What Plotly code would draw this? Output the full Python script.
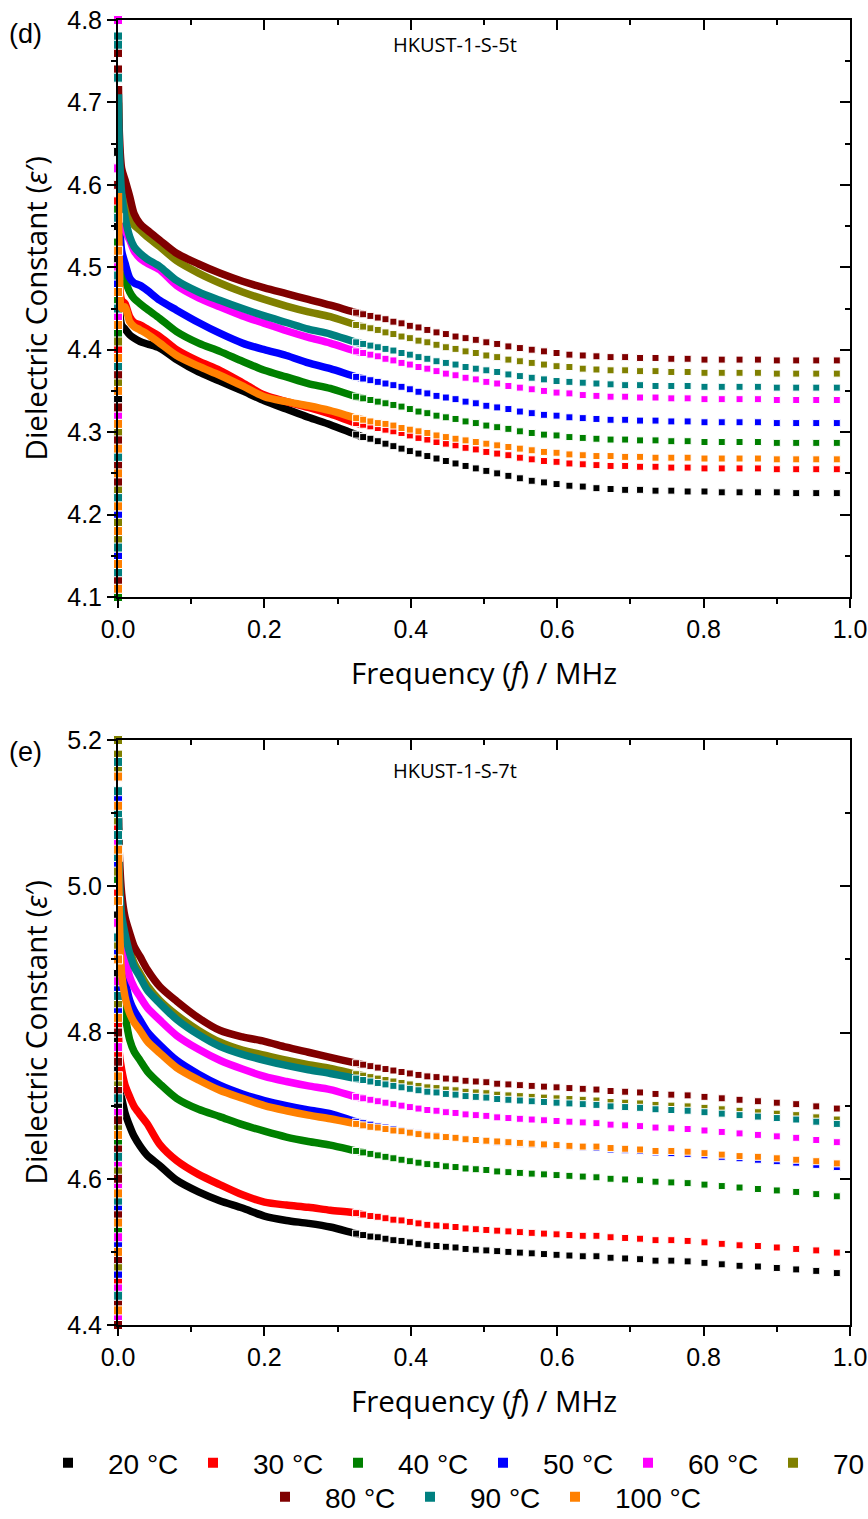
import plotly.graph_objects as go

# ---------------- data ----------------
temps = ["20 °C", "30 °C", "40 °C", "50 °C", "60 °C", "70 °C", "80 °C", "90 °C", "100 °C"]
colors = ["#000000", "#FF0000", "#008000", "#0000FF", "#FF00FF", "#808000", "#800000", "#008080", "#FF8000"]

# frequency (MHz) of the lowest-frequency points (the noisy column at f ~ 0)
freq_low = [0.00001, 0.00002, 0.00003, 0.00004, 0.00005, 0.00006,
            0.00007, 0.00008, 0.00009, 0.0001, 0.00011, 0.00012]
# frequency (MHz) of the dense part of each sweep
freq_head = [0.0006, 0.002, 0.005, 0.0096, 0.016, 0.022, 0.030, 0.040, 0.057,
             0.080, 0.110, 0.139, 0.170, 0.200, 0.230, 0.260, 0.290]
# frequency (MHz) of the separated points at the high-frequency end
freq_tail = [0.3253, 0.3349, 0.3448, 0.3549, 0.3654, 0.3762, 0.3873, 0.3987, 0.4105,
             0.4226, 0.4351, 0.4479, 0.4611, 0.4748, 0.4888, 0.5032, 0.5180, 0.5333,
             0.5490, 0.5652, 0.5819, 0.5991, 0.6167, 0.6349, 0.6536, 0.6729, 0.6928,
             0.7132, 0.7343, 0.7559, 0.7782, 0.8012, 0.8248, 0.8491, 0.8742, 0.9000,
             0.9265, 0.9539, 0.9820]

# ---- panel (d) HKUST-1-S-5t ----
d_low_20 = [4.13, 4.38, 4.22, 4.55, 4.29, 4.47, 4.17, 4.64, 4.34, 4.25, 4.51, 4.41]
d_low_30 = [4.18, 4.31, 4.44, 4.27, 4.58, 4.12, 4.36, 4.49, 4.21, 4.62, 4.28, 4.40]
d_low_40 = [4.10, 4.26, 4.42, 4.35, 4.19, 4.53, 4.30, 4.46, 4.14, 4.39, 4.57, 4.23]
d_low_50 = [4.15, 4.33, 4.24, 4.48, 4.37, 4.20, 4.52, 4.29, 4.43, 4.11, 4.35, 4.60]
d_low_60 = [4.80, 4.74, 4.44, 4.21, 4.32, 4.27, 4.50, 4.16, 4.39, 4.62, 4.35, 4.25]
d_low_70 = [4.19, 4.36, 4.14, 4.28, 4.47, 4.33, 4.23, 4.56, 4.41, 4.17, 4.30, 4.52]
d_low_80 = [4.76, 4.74, 4.12, 4.24, 4.21, 4.29, 4.33, 4.26, 4.45, 4.18, 4.37, 4.60]
d_low_90 = [4.78, 4.77, 4.73, 4.16, 4.31, 4.45, 4.22, 4.38, 4.13, 4.56, 4.27, 4.49]
d_low_100 = [4.11, 4.14, 4.18, 4.21, 4.25, 4.28, 4.31, 4.35, 4.39, 4.43, 4.47, 4.52]

d_head_20 = [4.50, 4.45, 4.43, 4.425, 4.418, 4.414, 4.410, 4.407, 4.402, 4.388, 4.373, 4.362, 4.350, 4.338, 4.328, 4.318, 4.309]
d_head_30 = [4.52, 4.48, 4.46, 4.456, 4.440, 4.433, 4.430, 4.425, 4.416, 4.400, 4.386, 4.375, 4.360, 4.345, 4.337, 4.330, 4.322]
d_head_40 = [4.58, 4.53, 4.50, 4.485, 4.470, 4.462, 4.456, 4.449, 4.438, 4.422, 4.408, 4.398, 4.386, 4.375, 4.367, 4.359, 4.353]
d_head_50 = [4.62, 4.56, 4.52, 4.505, 4.487, 4.481, 4.478, 4.472, 4.460, 4.448, 4.433, 4.420, 4.408, 4.400, 4.393, 4.384, 4.377]
d_head_60 = [4.68, 4.62, 4.57, 4.545, 4.533, 4.520, 4.511, 4.505, 4.497, 4.478, 4.463, 4.452, 4.441, 4.432, 4.423, 4.415, 4.408]
d_head_70 = [4.70, 4.64, 4.60, 4.586, 4.561, 4.551, 4.545, 4.537, 4.525, 4.508, 4.493, 4.481, 4.470, 4.461, 4.453, 4.446, 4.440]
d_head_80 = [4.72, 4.66, 4.62, 4.606, 4.586, 4.565, 4.553, 4.545, 4.533, 4.517, 4.504, 4.493, 4.483, 4.475, 4.468, 4.461, 4.454]
d_head_90 = [4.71, 4.64, 4.59, 4.561, 4.537, 4.525, 4.517, 4.510, 4.501, 4.484, 4.470, 4.460, 4.450, 4.441, 4.433, 4.425, 4.419]
d_head_100 = [4.59, 4.50, 4.45, 4.452, 4.434, 4.428, 4.424, 4.419, 4.408, 4.393, 4.380, 4.369, 4.356, 4.343, 4.337, 4.332, 4.326]

d_tail_20 = [4.297, 4.294, 4.292, 4.289, 4.286, 4.283, 4.280, 4.277, 4.274, 4.271, 4.268, 4.265, 4.262,
             4.259, 4.256, 4.253, 4.250, 4.247, 4.244, 4.241, 4.239, 4.237, 4.235, 4.234, 4.232, 4.231,
             4.230, 4.230, 4.229, 4.229, 4.228, 4.228, 4.227, 4.227, 4.227, 4.227, 4.226, 4.226, 4.226]
d_tail_30 = [4.311, 4.309, 4.307, 4.305, 4.303, 4.301, 4.299, 4.296, 4.293, 4.291, 4.288, 4.286, 4.284,
             4.281, 4.279, 4.276, 4.274, 4.272, 4.269, 4.267, 4.265, 4.264, 4.262, 4.261, 4.260, 4.259,
             4.259, 4.258, 4.258, 4.257, 4.257, 4.256, 4.256, 4.256, 4.256, 4.255, 4.255, 4.255, 4.255]
d_tail_40 = [4.343, 4.341, 4.339, 4.337, 4.335, 4.333, 4.331, 4.328, 4.325, 4.323, 4.320, 4.318, 4.316,
             4.313, 4.311, 4.308, 4.306, 4.304, 4.301, 4.299, 4.297, 4.296, 4.294, 4.293, 4.292, 4.291,
             4.291, 4.290, 4.290, 4.289, 4.289, 4.288, 4.288, 4.288, 4.288, 4.287, 4.287, 4.287, 4.287]
d_tail_50 = [4.367, 4.365, 4.363, 4.361, 4.359, 4.357, 4.355, 4.352, 4.349, 4.347, 4.344, 4.342, 4.340,
             4.337, 4.335, 4.332, 4.330, 4.328, 4.325, 4.323, 4.321, 4.320, 4.318, 4.317, 4.316, 4.315,
             4.315, 4.314, 4.314, 4.313, 4.313, 4.312, 4.312, 4.312, 4.312, 4.311, 4.311, 4.311, 4.311]
d_tail_60 = [4.398, 4.396, 4.394, 4.392, 4.389, 4.387, 4.384, 4.382, 4.379, 4.377, 4.374, 4.371, 4.369,
             4.366, 4.364, 4.361, 4.359, 4.356, 4.354, 4.352, 4.350, 4.348, 4.347, 4.345, 4.344, 4.343,
             4.343, 4.342, 4.342, 4.341, 4.341, 4.340, 4.340, 4.340, 4.340, 4.339, 4.339, 4.339, 4.339]
d_tail_70 = [4.430, 4.428, 4.426, 4.424, 4.421, 4.419, 4.416, 4.414, 4.411, 4.409, 4.406, 4.403, 4.401,
             4.398, 4.396, 4.393, 4.391, 4.388, 4.386, 4.384, 4.382, 4.380, 4.379, 4.377, 4.376, 4.375,
             4.375, 4.374, 4.374, 4.373, 4.373, 4.372, 4.372, 4.372, 4.372, 4.371, 4.371, 4.371, 4.371]
d_tail_80 = [4.445, 4.443, 4.441, 4.439, 4.437, 4.434, 4.432, 4.429, 4.427, 4.424, 4.421, 4.419, 4.416,
             4.414, 4.412, 4.409, 4.407, 4.404, 4.402, 4.400, 4.398, 4.396, 4.394, 4.393, 4.392, 4.391,
             4.391, 4.390, 4.390, 4.389, 4.389, 4.388, 4.388, 4.388, 4.388, 4.387, 4.387, 4.387, 4.387]
d_tail_90 = [4.409, 4.407, 4.405, 4.403, 4.401, 4.399, 4.396, 4.394, 4.391, 4.389, 4.386, 4.384, 4.382,
             4.379, 4.377, 4.375, 4.373, 4.370, 4.368, 4.366, 4.364, 4.362, 4.361, 4.360, 4.359, 4.358,
             4.357, 4.357, 4.356, 4.356, 4.356, 4.355, 4.355, 4.355, 4.355, 4.354, 4.354, 4.354, 4.354]
d_tail_100 = [4.317, 4.315, 4.313, 4.311, 4.310, 4.308, 4.305, 4.303, 4.301, 4.299, 4.296, 4.294, 4.292,
              4.290, 4.288, 4.286, 4.284, 4.282, 4.280, 4.278, 4.276, 4.275, 4.273, 4.272, 4.271, 4.271,
              4.270, 4.270, 4.269, 4.269, 4.269, 4.268, 4.268, 4.268, 4.268, 4.267, 4.267, 4.267, 4.267]

# ---- panel (e) HKUST-1-S-7t ----
e_low_20 = [4.44, 4.52, 4.61, 4.70, 4.79, 4.88, 4.96, 5.05, 4.48, 4.57, 4.66, 4.75]
e_low_30 = [4.46, 4.55, 4.63, 4.72, 4.81, 4.90, 4.99, 5.08, 4.50, 4.59, 4.68, 4.77]
e_low_40 = [4.43, 4.53, 4.65, 4.74, 4.85, 4.93, 5.01, 5.10, 4.49, 4.60, 4.69, 4.80]
e_low_50 = [4.47, 4.56, 4.66, 4.73, 4.83, 4.91, 5.03, 5.12, 4.51, 4.62, 4.71, 4.86]
e_low_60 = [4.41, 4.45, 4.54, 4.62, 4.71, 4.87, 4.95, 5.06, 4.52, 4.59, 4.69, 4.78]
e_low_70 = [5.20, 5.18, 5.16, 4.58, 4.67, 4.84, 4.92, 5.02, 4.48, 4.61, 4.73, 5.09]
e_low_80 = [4.40, 4.43, 4.49, 4.55, 4.60, 4.64, 4.68, 4.72, 4.76, 4.80, 5.15, 5.04]
e_low_90 = [5.17, 5.13, 5.10, 5.07, 5.04, 4.98, 4.93, 4.85, 4.57, 4.63, 4.44, 4.71]
e_low_100 = [4.42, 4.50, 4.58, 4.66, 4.74, 4.82, 4.90, 4.98, 5.05, 5.11, 5.15, 4.54]

e_head_20 = [4.73, 4.72, 4.71, 4.690, 4.672, 4.658, 4.645, 4.632, 4.618, 4.598, 4.582, 4.570, 4.560, 4.549, 4.543, 4.539, 4.534]
e_head_30 = [4.80, 4.77, 4.749, 4.728, 4.712, 4.699, 4.688, 4.675, 4.647, 4.625, 4.606, 4.592, 4.578, 4.568, 4.564, 4.561, 4.557]
e_head_40 = [4.95, 4.88, 4.84, 4.822, 4.790, 4.774, 4.762, 4.747, 4.730, 4.710, 4.695, 4.685, 4.674, 4.665, 4.657, 4.651, 4.646]
e_head_50 = [5.00, 4.94, 4.90, 4.872, 4.844, 4.830, 4.817, 4.801, 4.783, 4.762, 4.743, 4.728, 4.716, 4.707, 4.700, 4.694, 4.689]
e_head_60 = [5.04, 4.98, 4.93, 4.904, 4.876, 4.862, 4.849, 4.834, 4.817, 4.796, 4.777, 4.762, 4.750, 4.740, 4.733, 4.727, 4.722]
e_head_70 = [5.08, 5.02, 4.96, 4.940, 4.913, 4.895, 4.881, 4.864, 4.844, 4.824, 4.803, 4.787, 4.776, 4.769, 4.762, 4.756, 4.751]
e_head_80 = [5.10, 5.04, 4.99, 4.958, 4.936, 4.918, 4.904, 4.886, 4.863, 4.843, 4.820, 4.803, 4.794, 4.788, 4.780, 4.773, 4.766]
e_head_90 = [5.10, 5.01, 4.96, 4.935, 4.908, 4.890, 4.876, 4.858, 4.840, 4.818, 4.797, 4.781, 4.770, 4.762, 4.755, 4.749, 4.744]
e_head_100 = [5.05, 4.95, 4.88, 4.849, 4.826, 4.814, 4.803, 4.788, 4.772, 4.752, 4.735, 4.721, 4.710, 4.700, 4.693, 4.687, 4.682]

e_tail_20 = [4.525, 4.523, 4.521, 4.520, 4.518, 4.516, 4.515, 4.513, 4.511, 4.509, 4.508, 4.507, 4.506,
             4.504, 4.503, 4.502, 4.501, 4.500, 4.499, 4.498, 4.497, 4.496, 4.495, 4.494, 4.494, 4.492,
             4.491, 4.490, 4.488, 4.488, 4.487, 4.485, 4.483, 4.481, 4.480, 4.478, 4.476, 4.474, 4.471]
e_tail_30 = [4.553, 4.551, 4.549, 4.548, 4.546, 4.544, 4.543, 4.541, 4.539, 4.537, 4.536, 4.535, 4.534,
             4.532, 4.531, 4.530, 4.529, 4.528, 4.527, 4.526, 4.525, 4.524, 4.523, 4.522, 4.522, 4.520,
             4.519, 4.518, 4.516, 4.516, 4.515, 4.513, 4.511, 4.509, 4.508, 4.506, 4.504, 4.502, 4.499]
e_tail_40 = [4.638, 4.636, 4.634, 4.632, 4.630, 4.628, 4.626, 4.624, 4.622, 4.620, 4.619, 4.617, 4.616,
             4.614, 4.613, 4.612, 4.610, 4.609, 4.608, 4.607, 4.606, 4.605, 4.604, 4.603, 4.602, 4.600,
             4.599, 4.598, 4.596, 4.595, 4.594, 4.592, 4.590, 4.588, 4.586, 4.584, 4.582, 4.579, 4.576]
e_tail_50 = [4.678, 4.676, 4.674, 4.672, 4.670, 4.668, 4.666, 4.664, 4.662, 4.660, 4.659, 4.657, 4.656,
             4.654, 4.653, 4.652, 4.650, 4.649, 4.648, 4.647, 4.646, 4.645, 4.644, 4.643, 4.642, 4.640,
             4.639, 4.638, 4.636, 4.635, 4.634, 4.632, 4.630, 4.628, 4.626, 4.624, 4.622, 4.619, 4.616]
e_tail_60 = [4.712, 4.710, 4.708, 4.706, 4.704, 4.702, 4.700, 4.698, 4.696, 4.694, 4.693, 4.691, 4.690,
             4.688, 4.687, 4.686, 4.684, 4.683, 4.682, 4.681, 4.680, 4.679, 4.678, 4.677, 4.676, 4.674,
             4.673, 4.672, 4.670, 4.669, 4.668, 4.666, 4.664, 4.662, 4.660, 4.658, 4.656, 4.653, 4.650]
e_tail_70 = [4.743, 4.741, 4.739, 4.737, 4.735, 4.733, 4.731, 4.729, 4.727, 4.725, 4.724, 4.722, 4.721,
             4.719, 4.718, 4.717, 4.715, 4.714, 4.713, 4.712, 4.711, 4.710, 4.709, 4.708, 4.707, 4.705,
             4.704, 4.703, 4.701, 4.700, 4.699, 4.697, 4.695, 4.693, 4.691, 4.689, 4.687, 4.684, 4.681]
e_tail_80 = [4.758, 4.756, 4.754, 4.752, 4.750, 4.748, 4.746, 4.744, 4.742, 4.740, 4.739, 4.737, 4.736,
             4.734, 4.733, 4.732, 4.730, 4.729, 4.728, 4.727, 4.726, 4.725, 4.724, 4.723, 4.722, 4.720,
             4.719, 4.718, 4.716, 4.715, 4.714, 4.712, 4.710, 4.708, 4.706, 4.704, 4.702, 4.699, 4.696]
e_tail_90 = [4.737, 4.735, 4.733, 4.731, 4.729, 4.727, 4.725, 4.723, 4.721, 4.719, 4.718, 4.716, 4.715,
             4.713, 4.712, 4.711, 4.709, 4.708, 4.707, 4.706, 4.705, 4.704, 4.703, 4.702, 4.701, 4.699,
             4.698, 4.697, 4.695, 4.694, 4.693, 4.691, 4.689, 4.687, 4.685, 4.683, 4.681, 4.678, 4.675]
e_tail_100 = [4.675, 4.673, 4.671, 4.670, 4.668, 4.666, 4.665, 4.663, 4.661, 4.659, 4.658, 4.657, 4.656,
              4.654, 4.653, 4.652, 4.651, 4.650, 4.649, 4.648, 4.647, 4.646, 4.645, 4.644, 4.644, 4.642,
              4.641, 4.640, 4.638, 4.638, 4.637, 4.635, 4.633, 4.631, 4.630, 4.628, 4.626, 4.624, 4.621]

panels = [
    dict(low=[d_low_20, d_low_30, d_low_40, d_low_50, d_low_60, d_low_70, d_low_80, d_low_90, d_low_100],
         head=[d_head_20, d_head_30, d_head_40, d_head_50, d_head_60, d_head_70, d_head_80, d_head_90, d_head_100],
         tail=[d_tail_20, d_tail_30, d_tail_40, d_tail_50, d_tail_60, d_tail_70, d_tail_80, d_tail_90, d_tail_100]),
    dict(low=[e_low_20, e_low_30, e_low_40, e_low_50, e_low_60, e_low_70, e_low_80, e_low_90, e_low_100],
         head=[e_head_20, e_head_30, e_head_40, e_head_50, e_head_60, e_head_70, e_head_80, e_head_90, e_head_100],
         tail=[e_tail_20, e_tail_30, e_tail_40, e_tail_50, e_tail_60, e_tail_70, e_tail_80, e_tail_90, e_tail_100]),
]

# ---------------- figure ----------------
W, H = 868, 1519
fig = go.Figure()

marker_sizes = [9] * len(freq_low) + [7] * len(freq_tail)

for p, panel in enumerate(panels):
    xa = "x" if p == 0 else "x2"
    ya = "y" if p == 0 else "y2"
    for i, name in enumerate(temps):
        col = colors[i]
        # dense part: overlapping points drawn as a thick band
        fig.add_trace(go.Scatter(
            x=freq_head + freq_tail[:2], y=panel["head"][i] + panel["tail"][i][:2],
            mode="lines", line=dict(color=col, width=7.5, shape="spline", smoothing=0.8),
            xaxis=xa, yaxis=ya, showlegend=False, legendgroup=name, hoverinfo="skip"))
        # individual square points
        fig.add_trace(go.Scatter(
            x=freq_low + freq_tail, y=panel["low"][i] + panel["tail"][i],
            mode="markers", marker=dict(symbol="square", size=marker_sizes, color=col, opacity=1),
            cliponaxis=False, name=name,
            xaxis=xa, yaxis=ya, legendgroup=name,
            legendwidth=(130 if i == 8 else None),
            showlegend=(p == 0), legend=("legend" if i < 6 else "legend2")))

# dummy traces for the inward mirror ticks
fig.add_trace(go.Scatter(x=[None], y=[None], xaxis="x3", yaxis="y3", showlegend=False))
fig.add_trace(go.Scatter(x=[None], y=[None], xaxis="x4", yaxis="y4", showlegend=False))

xdom = [118 / W, 850 / W]
ydom1 = [1 - 597 / H, 1 - 20 / H]
ydom2 = [1 - 1325 / H, 1 - 740 / H]

tickfont = dict(family="Liberation Sans, Arial, sans-serif", size=25, color="black")
common = dict(showgrid=False, zeroline=False, showline=True, linecolor="black", linewidth=2,
              ticks="outside", ticklen=9, tickwidth=2, tickcolor="black", tickfont=tickfont,
              mirror=True)
minor_out = dict(ticks="outside", ticklen=5, tickwidth=2, tickcolor="black")
minor_in = dict(ticks="inside", ticklen=5, tickwidth=2, tickcolor="black")
inner = dict(showgrid=False, zeroline=False, showline=False, ticks="inside", ticklen=10,
             tickwidth=2, tickcolor="black", showticklabels=False)

legend_common = dict(orientation="h", xanchor="left", yanchor="middle",
                     entrywidth=60, entrywidthmode="pixels", itemwidth=70, itemsizing="constant",
                     font=dict(family="Liberation Sans, Arial, sans-serif", size=28, color="black"),
                     bgcolor="rgba(0,0,0,0)", traceorder="normal")

fig.update_layout(
    width=W, height=H, margin=dict(l=0, r=0, t=0, b=0, autoexpand=False),
    paper_bgcolor="white", plot_bgcolor="white",
    xaxis=dict(domain=xdom, anchor="y", range=[0, 1], dtick=0.2, tick0=0, tickformat=".1f",
               minor=dict(dtick=0.1, **minor_out), **common),
    yaxis=dict(domain=ydom1, anchor="x", range=[4.1, 4.8], dtick=0.1, tick0=4.1, tickformat=".1f",
               minor=dict(dtick=0.05, **minor_out), **common),
    xaxis2=dict(domain=xdom, anchor="y2", range=[0, 1], dtick=0.2, tick0=0, tickformat=".1f",
                minor=dict(dtick=0.1, **minor_out), **common),
    yaxis2=dict(domain=ydom2, anchor="x2", range=[4.4, 5.2], dtick=0.2, tick0=4.4, tickformat=".1f",
                minor=dict(dtick=0.1, **minor_out), **common),
    xaxis3=dict(overlaying="x", anchor="y3", side="top", range=[0, 1], dtick=0.2, tick0=0,
                minor=dict(dtick=0.1, **minor_in), **inner),
    yaxis3=dict(overlaying="y", anchor="x3", side="right", range=[4.1, 4.8], dtick=0.1, tick0=4.1,
                minor=dict(dtick=0.05, **minor_in), **inner),
    xaxis4=dict(overlaying="x2", anchor="y4", side="top", range=[0, 1], dtick=0.2, tick0=0,
                minor=dict(dtick=0.1, **minor_in), **inner),
    yaxis4=dict(overlaying="y2", anchor="x4", side="right", range=[4.4, 5.2], dtick=0.2, tick0=4.4,
                minor=dict(dtick=0.1, **minor_in), **inner),
    legend=dict(x=28 / W, y=1 - 1463 / H, **legend_common),
    legend2=dict(x=245 / W, y=1 - 1497 / H, **legend_common),
)

title_font = dict(family="Open Sans, sans-serif", size=29.5, color="black")
ann = []
for yc, xt_y, lab, lab_y, name, name_y in [
        ((20 + 597) / 2, 672, "(d)", 34, "HKUST-1-S-5t", 45),
        ((740 + 1325) / 2, 1400, "(e)", 752, "HKUST-1-S-7t", 770)]:
    ann.append(dict(text="Dielectric Constant (<i>ε</i>′)", x=35 / W, y=1 - yc / H, xref="paper",
                    yref="paper", textangle=-90, showarrow=False, font=title_font,
                    xanchor="center", yanchor="middle"))
    ann.append(dict(text="Frequency (<i>f</i>) / MHz", x=484 / W, y=1 - xt_y / H, xref="paper",
                    yref="paper", showarrow=False, font=title_font, xanchor="center", yanchor="middle"))
    ann.append(dict(text=lab, x=25 / W, y=1 - lab_y / H, xref="paper", yref="paper", showarrow=False,
                    font=dict(family="Liberation Sans, Arial, sans-serif", size=27, color="black"),
                    xanchor="center", yanchor="middle"))
    ann.append(dict(text=name, x=455 / W, y=1 - name_y / H, xref="paper", yref="paper", showarrow=False,
                    font=dict(family="Open Sans, sans-serif", size=20, color="black"),
                    xanchor="center", yanchor="middle"))
fig.update_layout(annotations=ann)

fig.write_html("out.html")
